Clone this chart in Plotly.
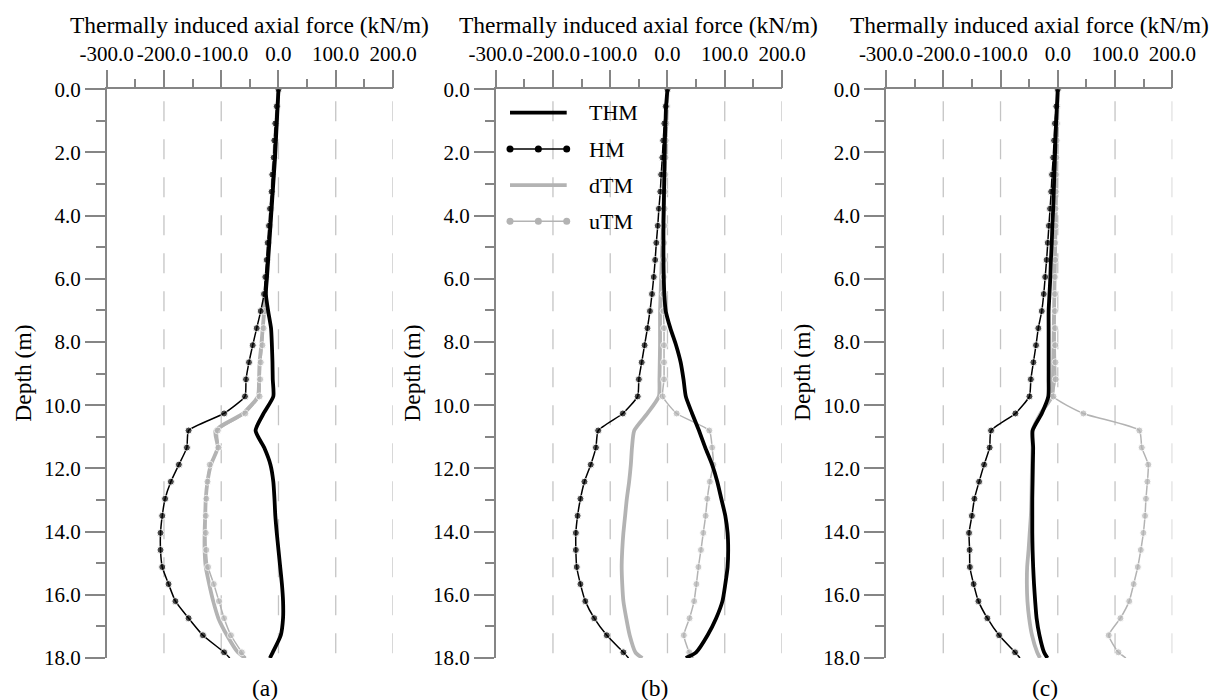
import plotly.graph_objects as go

# ---------------- data ----------------
depth = [0.00, 0.54, 1.08, 1.62, 2.16, 2.70, 3.24, 3.78, 4.32, 4.86, 5.40, 5.94,
         6.48, 7.02, 7.56, 8.10, 8.64, 9.18, 9.72, 10.26, 10.80, 11.34, 11.88,
         12.42, 12.96, 13.50, 14.04, 14.58, 15.12, 15.66, 16.20, 16.74, 17.28,
         17.82, 18.00]

# panel (a)
thm_a = [0, -1.5, -3, -4.5, -6, -8, -10, -12, -14, -16, -18, -20, -22, -18, -13,
         -11.5, -10.5, -10, -9, -26, -40, -25, -14, -9, -7, -5.5, -3, 0, 3, 6, 8,
         8, 4, -10, -15]
hm_a = [0, -3, -5.6, -7.3, -8.4, -10.8, -12, -14.8, -16.6, -18.9, -20.6, -23,
        -25.3, -31, -38, -45, -51.5, -56.7, -58.5, -95, -157, -160, -174, -188,
        -198, -203, -206, -206, -203, -192, -180, -157, -132, -95, -85]
dtm_a = [0, -2, -4, -6, -7.5, -9.5, -11, -13, -15, -17, -19, -21, -23, -25, -27.5,
         -30, -33, -34, -36, -62, -110, -106, -118, -124, -127, -128, -129, -129,
         -127, -121, -114, -105, -90, -71, -58]
utm_a = [0, -2, -4, -6, -7.5, -9.5, -11, -13, -15, -17, -19, -21, -23, -24, -26,
         -28, -31, -32, -33, -58, -106, -105, -120, -124, -126, -127, -127, -126,
         -123, -113, -104, -95, -83, -64, -57]

# panel (b)
thm_b = [0, -2.5, -3.5, -4.5, -5, -5.5, -6, -6.5, -7, -7, -7, -6.5, -5.5, -3, 5,
         15, 23, 28, 32, 43, 55, 66, 78, 87, 94, 101, 105, 106, 105, 101, 96, 85,
         70, 50, 32]
hm_b = [0, -3, -5.5, -7.5, -9, -11, -12.5, -15, -17, -19.5, -21.5, -24, -27, -30.6,
        -35, -40, -45, -50, -52, -78, -121, -125, -134, -145, -152, -157, -160,
        -160, -158.5, -152, -143.5, -128, -106, -77, -68]
dtm_b = [0, -1, -2, -3, -4, -5, -6, -7, -8, -9, -10, -11, -12, -13, -13, -13, -13.5,
         -14, -15, -35, -58, -62, -64, -67, -71, -74, -77, -79, -80, -79, -77, -72,
         -66, -56, -44]
utm_b = [0, -1, -2, -3, -3.5, -4, -4.5, -5, -5.5, -6, -6, -6.5, -7, -7, -6, -6, -6,
         -6, -8.4, 16, 73, 78, 80, 74, 69.5, 66.6, 62.5, 58.5, 54, 50.5, 46.5, 38.5,
         28.5, 38, 45]

# panel (c)
thm_c = [0, -1.5, -3, -4, -5, -6, -7, -8, -9.5, -10.5, -12, -13, -14.5, -16, -16,
         -16, -16, -16, -16.5, -28, -44, -43, -43.5, -44, -44.5, -44.5, -44.5, -44,
         -43, -41.5, -39.5, -37, -32, -24, -18]
hm_c = [0, -2.5, -5, -6.5, -8, -10, -11.5, -13.5, -15.5, -17.5, -19.5, -22, -24.5,
        -28, -34, -38, -42.6, -47, -49.5, -74, -116.5, -119, -128.7, -137.4, -145.6,
        -150, -155, -154, -153.5, -147, -138.6, -123, -102.5, -74.6, -66]
dtm_c = [0, -0.5, -1, -1.5, -2, -2.5, -3, -3.5, -4, -4.5, -5, -5.5, -6, -6.5, -7,
         -7.5, -8, -8.5, -10, -30, -44, -44, -45, -45.5, -46, -47, -49, -51, -53.5,
         -54, -53, -50, -45, -36, -31]
utm_c = [0, -1, -1.5, -2, -2.5, -3, -3.5, -4, -4, -4.5, -4.5, -5, -5, -5, -4.7, -4.5,
         -4, -3.5, -7.6, 44.7, 142.5, 146.7, 158, 156.5, 154, 152.4, 149.5, 145,
         139.7, 132.5, 124.8, 109.4, 89, 105.8, 119]

series_names = ["THM", "HM", "dTM", "uTM"]
panel_labels = ["(a)", "(b)", "(c)"]

x_tickvals = [-300, -200, -100, 0, 100, 200]
x_ticktext = ["-300.0", "-200.0", "-100.0", "0.0", "100.0", "200.0"]
x_minorvals = [-250, -150, -50, 50, 150]
y_tickvals = [0, 2, 4, 6, 8, 10, 12, 14, 16, 18]
y_ticktext = ["0.0", "2.0", "4.0", "6.0", "8.0", "10.0", "12.0", "14.0", "16.0", "18.0"]
y_minorvals = [1, 3, 5, 7, 9, 11, 13, 15, 17]
grid_vals = [-200, -100, 0, 100, 200]

x_title = "Thermally induced axial force (kN/m)"
y_title = "Depth (m)"

# ---------------- styling ----------------
W, H = 1222, 700
FONT = "Liberation Serif, Times New Roman, serif"
BLACK = "#000000"
GRAY = "#b3b3b3"
AXIS = "#858585"
GRID = "#c4c4c4"

left_px = [106.7, 495.7, 886.0]
width_px = 286.3
top_px, bottom_px = 89.3, 658.0
y_dom = [1 - bottom_px / H, 1 - top_px / H]

panels = [(thm_a, hm_a, dtm_a, utm_a), (thm_b, hm_b, dtm_b, utm_b),
          (thm_c, hm_c, dtm_c, utm_c)]

fig = go.Figure()
msize = [7] * (len(depth) - 1) + [0]

shapes = []
annotations = []
for k, (thm, hm, dtm, utm) in enumerate(panels):
    sfx = "" if k == 0 else str(k + 1)
    xa, ya = "x" + sfx, "y" + sfx
    common = dict(xaxis=xa, yaxis=ya, showlegend=False, hoverinfo="skip")
    fig.add_trace(go.Scatter(x=dtm, y=depth, mode="lines", name="dTM",
                             line=dict(color=GRAY, width=3.8, shape="spline", smoothing=0.6), **common))
    fig.add_trace(go.Scatter(x=utm, y=depth, mode="lines+markers", name="uTM",
                             line=dict(color=GRAY, width=1.5, shape="spline", smoothing=0.5),
                             marker=dict(color=GRAY, size=msize), **common))
    fig.add_trace(go.Scatter(x=hm, y=depth, mode="lines+markers", name="HM",
                             line=dict(color=BLACK, width=1.5, shape="spline", smoothing=0.5),
                             marker=dict(color=BLACK, size=msize), **common))
    fig.add_trace(go.Scatter(x=thm, y=depth, mode="lines", name="THM",
                             line=dict(color=BLACK, width=3.8, shape="spline", smoothing=0.6), **common))

    x0 = left_px[k] / W
    x1 = (left_px[k] + width_px) / W
    fig.layout["xaxis" + sfx] = dict(
        domain=[x0, x1], range=[-300, 200], side="top", anchor=ya, automargin=False,
        showline=True, linecolor=AXIS, linewidth=1.5,
        ticks="outside", ticklen=18, tickwidth=1.5, tickcolor=AXIS,
        tickmode="array", tickvals=x_tickvals, ticktext=x_ticktext, tickangle=0,
        tickfont=dict(family=FONT, size=21, color=BLACK),
        showgrid=False, zeroline=False, fixedrange=True,
        minor=dict(tickmode="array", tickvals=x_minorvals, ticks="outside",
                   ticklen=9, tickwidth=1.5, tickcolor=AXIS, showgrid=False))
    fig.layout["yaxis" + sfx] = dict(
        domain=y_dom, range=[18, 0], anchor=xa, automargin=False,
        showline=True, linecolor=AXIS, linewidth=1.5,
        ticks="outside", ticklen=20, tickwidth=1.5, tickcolor=AXIS,
        tickmode="array", tickvals=y_tickvals, ticktext=y_ticktext,
        tickfont=dict(family=FONT, size=21, color=BLACK),
        showgrid=False, zeroline=False, fixedrange=True,
        minor=dict(tickmode="array", tickvals=y_minorvals, ticks="outside",
                   ticklen=9, tickwidth=1.5, tickcolor=AXIS, showgrid=False))

    # dashed vertical grid lines
    for gv in grid_vals:
        shapes.append(dict(type="line", xref=xa, yref=ya, x0=gv, x1=gv, y0=0, y1=18,
                           line=dict(color=GRID, width=1.3, dash="0px,12px,20px,6px"),
                           layer="below"))

    cx = (x0 + x1) / 2
    annotations.append(dict(text=x_title, xref="paper", yref="paper", x=cx, y=1 - 25 / H,
                            xanchor="center", yanchor="middle", showarrow=False,
                            font=dict(family=FONT, size=23.5, color=BLACK)))
    annotations.append(dict(text=y_title, xref="paper", yref="paper",
                            x=(left_px[k] - 84) / W, y=1 - 373 / H, textangle=-90,
                            xanchor="center", yanchor="middle", showarrow=False,
                            font=dict(family=FONT, size=23.5, color=BLACK)))
    annotations.append(dict(text=panel_labels[k], xref="paper", yref="paper",
                            x=(left_px[k] + 158.5) / W, y=1 - 688 / H,
                            xanchor="center", yanchor="middle", showarrow=False,
                            font=dict(family=FONT, size=23.5, color=BLACK)))

# ---------------- custom legend inside panel (b) ----------------
leg_rows = [0.74, 1.89, 3.03, 4.18]
leg_styles = [(BLACK, 3.8, False), (BLACK, 1.5, True), (GRAY, 3.8, False), (GRAY, 1.5, True)]
leg_x0, leg_x1, leg_text_x = -275, -176, -141
for name, yrow, (col, wid, mk) in zip(series_names, leg_rows, leg_styles):
    shapes.append(dict(type="line", xref="x2", yref="y2", x0=leg_x0, x1=leg_x1,
                       y0=yrow, y1=yrow, line=dict(color=col, width=wid)))
    if mk:
        for mx in (leg_x0, (leg_x0 + leg_x1) / 2, leg_x1):
            shapes.append(dict(type="circle", xref="x2", yref="y2",
                               xsizemode="pixel", ysizemode="pixel",
                               xanchor=mx, yanchor=yrow, x0=-3.5, x1=3.5, y0=-3.5, y1=3.5,
                               fillcolor=col, line=dict(color=col, width=0)))
    annotations.append(dict(text=name, xref="x2", yref="y2", x=leg_text_x, y=yrow,
                            xanchor="left", yanchor="middle", showarrow=False,
                            font=dict(family=FONT, size=22, color=BLACK)))

fig.update_layout(width=W, height=H, margin=dict(l=0, r=0, t=0, b=0, autoexpand=False),
                  paper_bgcolor="white", plot_bgcolor="white",
                  shapes=shapes, annotations=annotations, showlegend=False,
                  font=dict(family=FONT, color=BLACK))

fig.write_html("out.html", config={"displayModeBar": False},
               post_script="document.body.style.margin='0';document.body.style.overflow='hidden';")
